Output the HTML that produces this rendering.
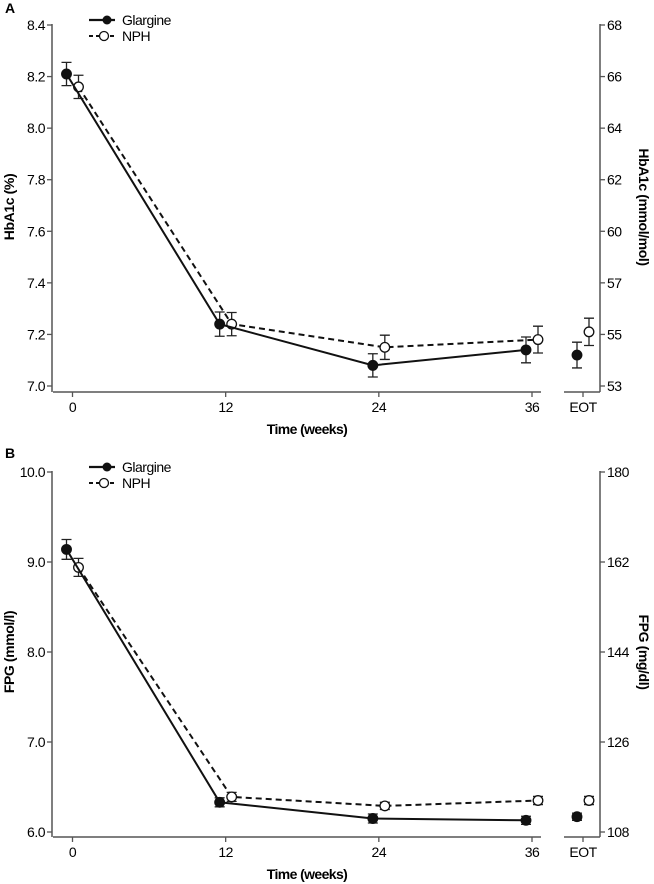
<!DOCTYPE html>
<html><head><meta charset="utf-8"><style>
html,body{margin:0;padding:0;background:#fff;}
svg{display:block;font-family:"Liberation Sans",Arial,sans-serif;}
</style></head><body>
<svg id="c" width="654" height="884" viewBox="0 0 654 884" xmlns="http://www.w3.org/2000/svg"></svg>
<script>
const weeks = [0, 12, 24, 36];
const leftTicksA = ["7.0","7.2","7.4","7.6","7.8","8.0","8.2","8.4"];
const leftValsA = [7.0,7.2,7.4,7.6,7.8,8.0,8.2,8.4];
const rightTicksA = ["53","55","57","60","62","64","66","68"];
const glargineA = [8.21, 7.24, 7.08, 7.14];
const glargineAEot = 7.12;
const nphA = [8.16, 7.24, 7.15, 7.18];
const nphAEot = 7.21;
const glargineAErr = [0.045, 0.047, 0.045, 0.05, 0.05];
const nphAErr = [0.045, 0.045, 0.047, 0.052, 0.053];

const leftTicksB = ["6.0","7.0","8.0","9.0","10.0"];
const leftValsB = [6,7,8,9,10];
const rightTicksB = ["108","126","144","162","180"];
const glargineB = [9.14, 6.33, 6.15, 6.13];
const glargineBEot = 6.17;
const nphB = [8.94, 6.39, 6.29, 6.35];
const nphBEot = 6.35;
const glargineBErr = [0.11, 0.05, 0.05, 0.045, 0.04];
const nphBErr = [0.1, 0.05, 0.04, 0.045, 0.045];

const NS = "http://www.w3.org/2000/svg";
const svg = document.getElementById('c');
function mk(tag, attrs, parent, text){
  const e = document.createElementNS(NS, tag);
  for (const k in attrs) e.setAttribute(k, attrs[k]);
  if (text !== undefined) e.textContent = text;
  (parent||svg).appendChild(e);
  return e;
}
const xW = w => 72.5 + w * (532 - 72.5) / 36;
const xEot = 583;

function panel(p){
  const g = mk('g', {});
  
  
  const y = v => p.y0 + (v - p.vmin) / (p.vmax - p.vmin) * (p.y1 - p.y0);
  const t = mk('text', {x: 5, y: p.labelY, 'font-size': 14, 'font-weight': 'bold'}, g, p.letter);
  
  
  // left axis
  const la = mk('line', {x1: 52, x2: 52, y1: p.y1 - 1, y2: p.axisY, stroke: '#555', 'stroke-width': 1.5}, g);
  
  
  const ra = mk('line', {x1: 600, x2: 600, y1: p.y1 - 1, y2: p.axisY, stroke: '#555', 'stroke-width': 1.5}, g);
  
  
  p.leftVals.forEach((v, i) => {
    const yy = y(v);
    mk('line', {x1: 47, x2: 52, y1: yy, y2: yy, stroke: '#555', 'stroke-width': 1.3}, g);
    const tl = mk('text', {x: 45, y: yy + 5, 'text-anchor': 'end', 'font-size': 14, 'letter-spacing': '-0.5'}, g, p.leftTicks[i]);
    
    
    mk('line', {x1: 600, x2: 605, y1: yy, y2: yy, stroke: '#555', 'stroke-width': 1.3}, g);
    const tr = mk('text', {x: 607, y: yy + 5, 'font-size': 14, 'letter-spacing': '-0.5'}, g, p.rightTicks[i]);
    
    
  });
  // x axis
  const xa = mk('line', {x1: 53, x2: 541, y1: p.axisY, y2: p.axisY, stroke: '#555', 'stroke-width': 1.5}, g);
  
  
  const xe = mk('line', {x1: 564, x2: 600, y1: p.axisY, y2: p.axisY, stroke: '#555', 'stroke-width': 1.5}, g);
  
  
  weeks.forEach(w => {
    mk('line', {x1: xW(w), x2: xW(w), y1: p.axisY, y2: p.axisY + 5, stroke: '#555', 'stroke-width': 1.3}, g);
    const tx = mk('text', {x: xW(w), y: p.axisY + 20, 'text-anchor': 'middle', 'font-size': 14, 'letter-spacing': '-0.5'}, g, String(w));
    
    
  });
  mk('line', {x1: xEot, x2: xEot, y1: p.axisY, y2: p.axisY + 5, stroke: '#555', 'stroke-width': 1.3}, g);
  const te = mk('text', {x: xEot, y: p.axisY + 20, 'text-anchor': 'middle', 'font-size': 14, 'letter-spacing': '-0.5'}, g, 'EOT');
  
  
  const xt = mk('text', {x: 307, y: p.axisY + 42, 'text-anchor': 'middle', 'font-size': 14, 'font-weight': 'bold', 'letter-spacing': '-0.6'}, g, 'Time (weeks)');
  
  
  const midY = p.titleY;
  const lt = mk('text', {x: 14, y: midY, 'text-anchor': 'middle', 'font-size': 14, 'font-weight': 'bold', 'letter-spacing': '-0.4', transform: `rotate(-90 14 ${midY})`}, g, p.leftTitle);
  
  
  const rt = mk('text', {x: 639, y: midY, 'text-anchor': 'middle', 'font-size': 14, 'font-weight': 'bold', 'letter-spacing': '-0.4', transform: `rotate(90 639 ${midY})`}, g, p.rightTitle);
  
  

  function series(vals, eot, errs, off, filled, dashed, name){
    const sg = mk('g', {}, g);
    
    
    const pts = vals.map((v, i) => [xW(weeks[i]) + off, y(v)]);
    const ln = mk('polyline', {points: pts.map(q => q.join(',')).join(' '), fill: 'none', stroke: '#111', 'stroke-width': 2, 'stroke-dasharray': dashed ? '6,4' : 'none'}, sg);
    
    
    const all = pts.concat([[xEot + off, y(eot)]]);
    const allV = vals.concat([eot]);
    all.forEach((q, i) => {
      const e = errs[i];
      const yt = y(allV[i] + e), yb = y(allV[i] - e);
      const eb = mk('path', {d: `M${q[0]},${yt}V${yb}M${q[0]-5},${yt}H${q[0]+5}M${q[0]-5},${yb}H${q[0]+5}`, stroke: '#222', 'stroke-width': 1.3, fill: 'none'}, sg);
      
      
      const c = mk('circle', {cx: q[0], cy: q[1], r: 4.8, fill: filled ? '#111' : '#fff', stroke: '#111', 'stroke-width': 1.3}, sg);
      
      
    });
  }
  series(p.n, p.nE, p.nErr, 6, false, true, 'nph');
  series(p.g, p.gE, p.gErr, -6, true, false, 'glargine');

  // legend
  const lg = mk('g', {}, g);
  
  
  const ly1 = p.legY, ly2 = p.legY + 16;
  mk('line', {x1: 89, x2: 115, y1: ly1, y2: ly1, stroke: '#111', 'stroke-width': 2.2}, lg);
  mk('circle', {cx: 107, cy: ly1, r: 4.5, fill: '#111'}, lg);
  const l1 = mk('text', {x: 122, y: ly1 + 5, 'font-size': 14, 'letter-spacing': '-0.5'}, lg, 'Glargine');
  
  
  mk('line', {x1: 89, x2: 115, y1: ly2, y2: ly2, stroke: '#111', 'stroke-width': 2, 'stroke-dasharray': '4,3'}, lg);
  mk('circle', {cx: 104, cy: ly2, r: 4.5, fill: '#fff', stroke: '#111', 'stroke-width': 1.3}, lg);
  const l2 = mk('text', {x: 122, y: ly2 + 5, 'font-size': 14, 'letter-spacing': '-0.5'}, lg, 'NPH');
  
  
}

panel({id: 'panel-a-hba1c', letter: 'A', labelY: 13, y0: 386, y1: 25, vmin: 7.0, vmax: 8.4, axisY: 392,
  leftTicks: leftTicksA, leftVals: leftValsA, rightTicks: rightTicksA,
  leftTitle: 'HbA1c (%)', rightTitle: 'HbA1c (mmol/mol)', titleY: 207, legY: 20,
  g: glargineA, gE: glargineAEot, gErr: glargineAErr, n: nphA, nE: nphAEot, nErr: nphAErr});
panel({id: 'panel-b-fpg', letter: 'B', labelY: 458, y0: 832, y1: 472, vmin: 6, vmax: 10, axisY: 837,
  leftTicks: leftTicksB, leftVals: leftValsB, rightTicks: rightTicksB,
  leftTitle: 'FPG (mmol/l)', rightTitle: 'FPG (mg/dl)', titleY: 652, legY: 467,
  g: glargineB, gE: glargineBEot, gErr: glargineBErr, n: nphB, nE: nphBEot, nErr: nphBErr});
</script>
</body></html>
